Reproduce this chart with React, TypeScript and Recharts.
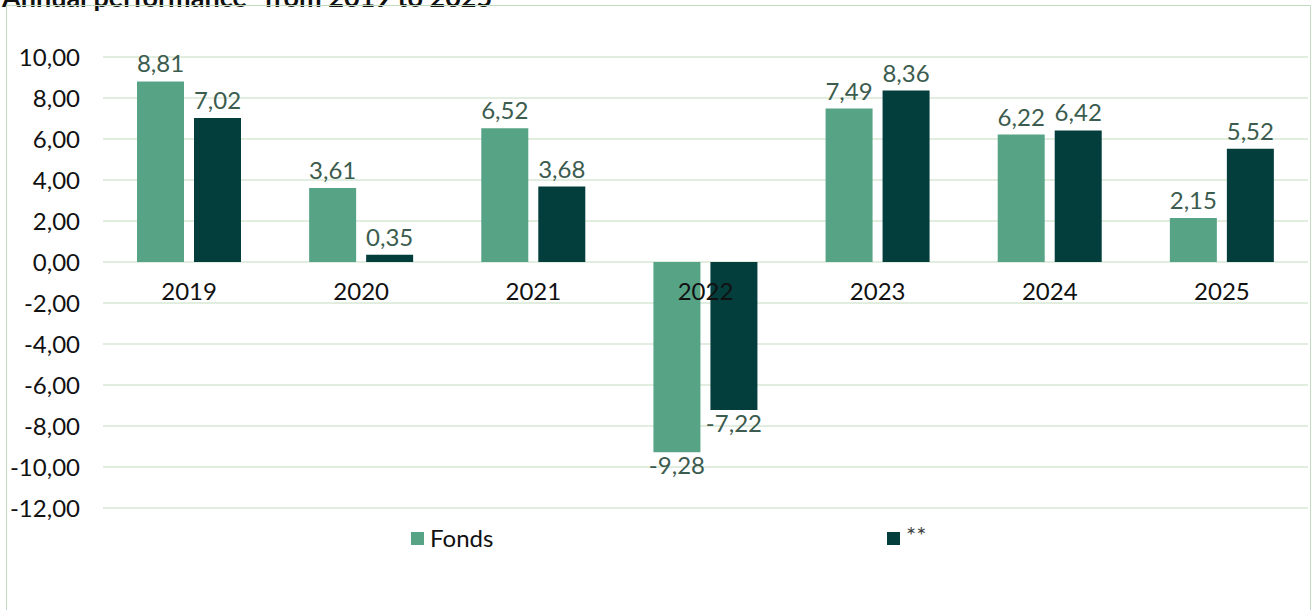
import { Bar, BarChart, CartesianGrid, LabelList, XAxis, YAxis } from "recharts";

const years = ["2019", "2020", "2021", "2022", "2023", "2024", "2025"];
const fonds = [8.81, 3.61, 6.52, -9.28, 7.49, 6.22, 2.15];
const benchmark = [7.02, 0.35, 3.68, -7.22, 8.36, 6.42, 5.52];
const yTicks = [10, 8, 6, 4, 2, 0, -2, -4, -6, -8, -10, -12];

const series = [
  { key: "fonds", name: "Fonds", color: "#56a386", values: fonds },
  { key: "bench", name: "**", color: "#033e3c", values: benchmark },
];

const data = years.map((year, i) => ({
  year,
  fonds: fonds[i],
  bench: benchmark[i],
}));

const W = 1313;
const H = 610;
const TOP = 57;
const BOTTOM = 101;
const X_AXIS_H = 1;
const Y_MIN = -12;
const Y_MAX = 10;
// pixel row of the zero line, used to hang the year labels on it
const ZERO_Y = TOP + (Y_MAX / (Y_MAX - Y_MIN)) * (H - TOP - BOTTOM - X_AXIS_H);

const font = "Lato, 'Open Sans', sans-serif";
const fmt = (v: number) => v.toFixed(2).replace(".", ",");

function YearTick(props: any) {
  const { x, payload } = props;
  return (
    <text x={x} y={ZERO_Y + 32} textAnchor="middle" dominantBaseline="middle" fontSize={24} fontFamily={font} fill="#111">
      {payload.value}
    </text>
  );
}

function ValueLabel(props: any) {
  const { x, y, width, height, value } = props;
  const v = Number(value);
  const top = Math.min(y, y + height);
  const bottom = Math.max(y, y + height);
  const ty = v >= 0 ? top - 15 : bottom + 16;
  return (
    <text x={x + width / 2} y={ty} textAnchor="middle" dominantBaseline="middle" fontSize={24} fontFamily={font} fill="#3b5c4e">
      {fmt(v)}
    </text>
  );
}

export default function App() {
  return (
    <div style={{ position: "relative", width: W, height: H, overflow: "hidden", background: "#fff" }}>
      <style>{"body{margin:0}"}</style>
      <div
        style={{
          position: "absolute",
          left: 2,
          top: -17,
          fontFamily: font,
          fontWeight: 700,
          fontSize: 27,
          lineHeight: "27px",
          color: "#111",
          whiteSpace: "nowrap",
        }}
      >
        Annual performance* from 2019 to 2025
      </div>
      <div
        style={{
          position: "absolute",
          left: 6,
          top: 5,
          width: 1303,
          height: 640,
          border: "1px solid #c1dbbf",
        }}
      />
      <div style={{ position: "absolute", left: 0, top: 0 }}>
        <BarChart
          width={W}
          height={H}
          data={data}
          margin={{ top: TOP, right: 5, bottom: BOTTOM, left: 0 }}
          barSize={47}
          barGap={10}
        >
          <CartesianGrid vertical={false} stroke="#c1dbbf" strokeWidth={1} />
          <XAxis
            dataKey="year"
            height={X_AXIS_H}
            axisLine={false}
            tickLine={false}
            tick={<YearTick />}
            interval={0}
          />
          <YAxis
            width={103}
            domain={[Y_MIN, Y_MAX]}
            ticks={yTicks}
            allowDataOverflow
            axisLine={false}
            tickLine={false}
            tickSize={0}
            tickMargin={23}
            tickFormatter={fmt}
            tick={{ fontSize: 24, fontFamily: font, fill: "#111" }}
          />
          {series.map((s) => (
            <Bar key={s.key} dataKey={s.key} name={s.name} fill={s.color} isAnimationActive={false}>
              <LabelList dataKey={s.key} content={<ValueLabel />} />
            </Bar>
          ))}
        </BarChart>
      </div>
      {series.map((s, i) => (
        <div
          key={s.key}
          style={{
            position: "absolute",
            left: i === 0 ? 411 : 887,
            top: 524,
            display: "flex",
            alignItems: "center",
            fontFamily: font,
            fontSize: 24,
            lineHeight: "28px",
            color: i === 0 ? "#111" : "#444",
          }}
        >
          <span style={{ width: 13, height: 13, background: s.color, display: "inline-block", marginRight: 6 }} />
          <span style={{ position: "relative", top: i === 0 ? 0 : -3 }}>{s.name}</span>
        </div>
      ))}
    </div>
  );
}
